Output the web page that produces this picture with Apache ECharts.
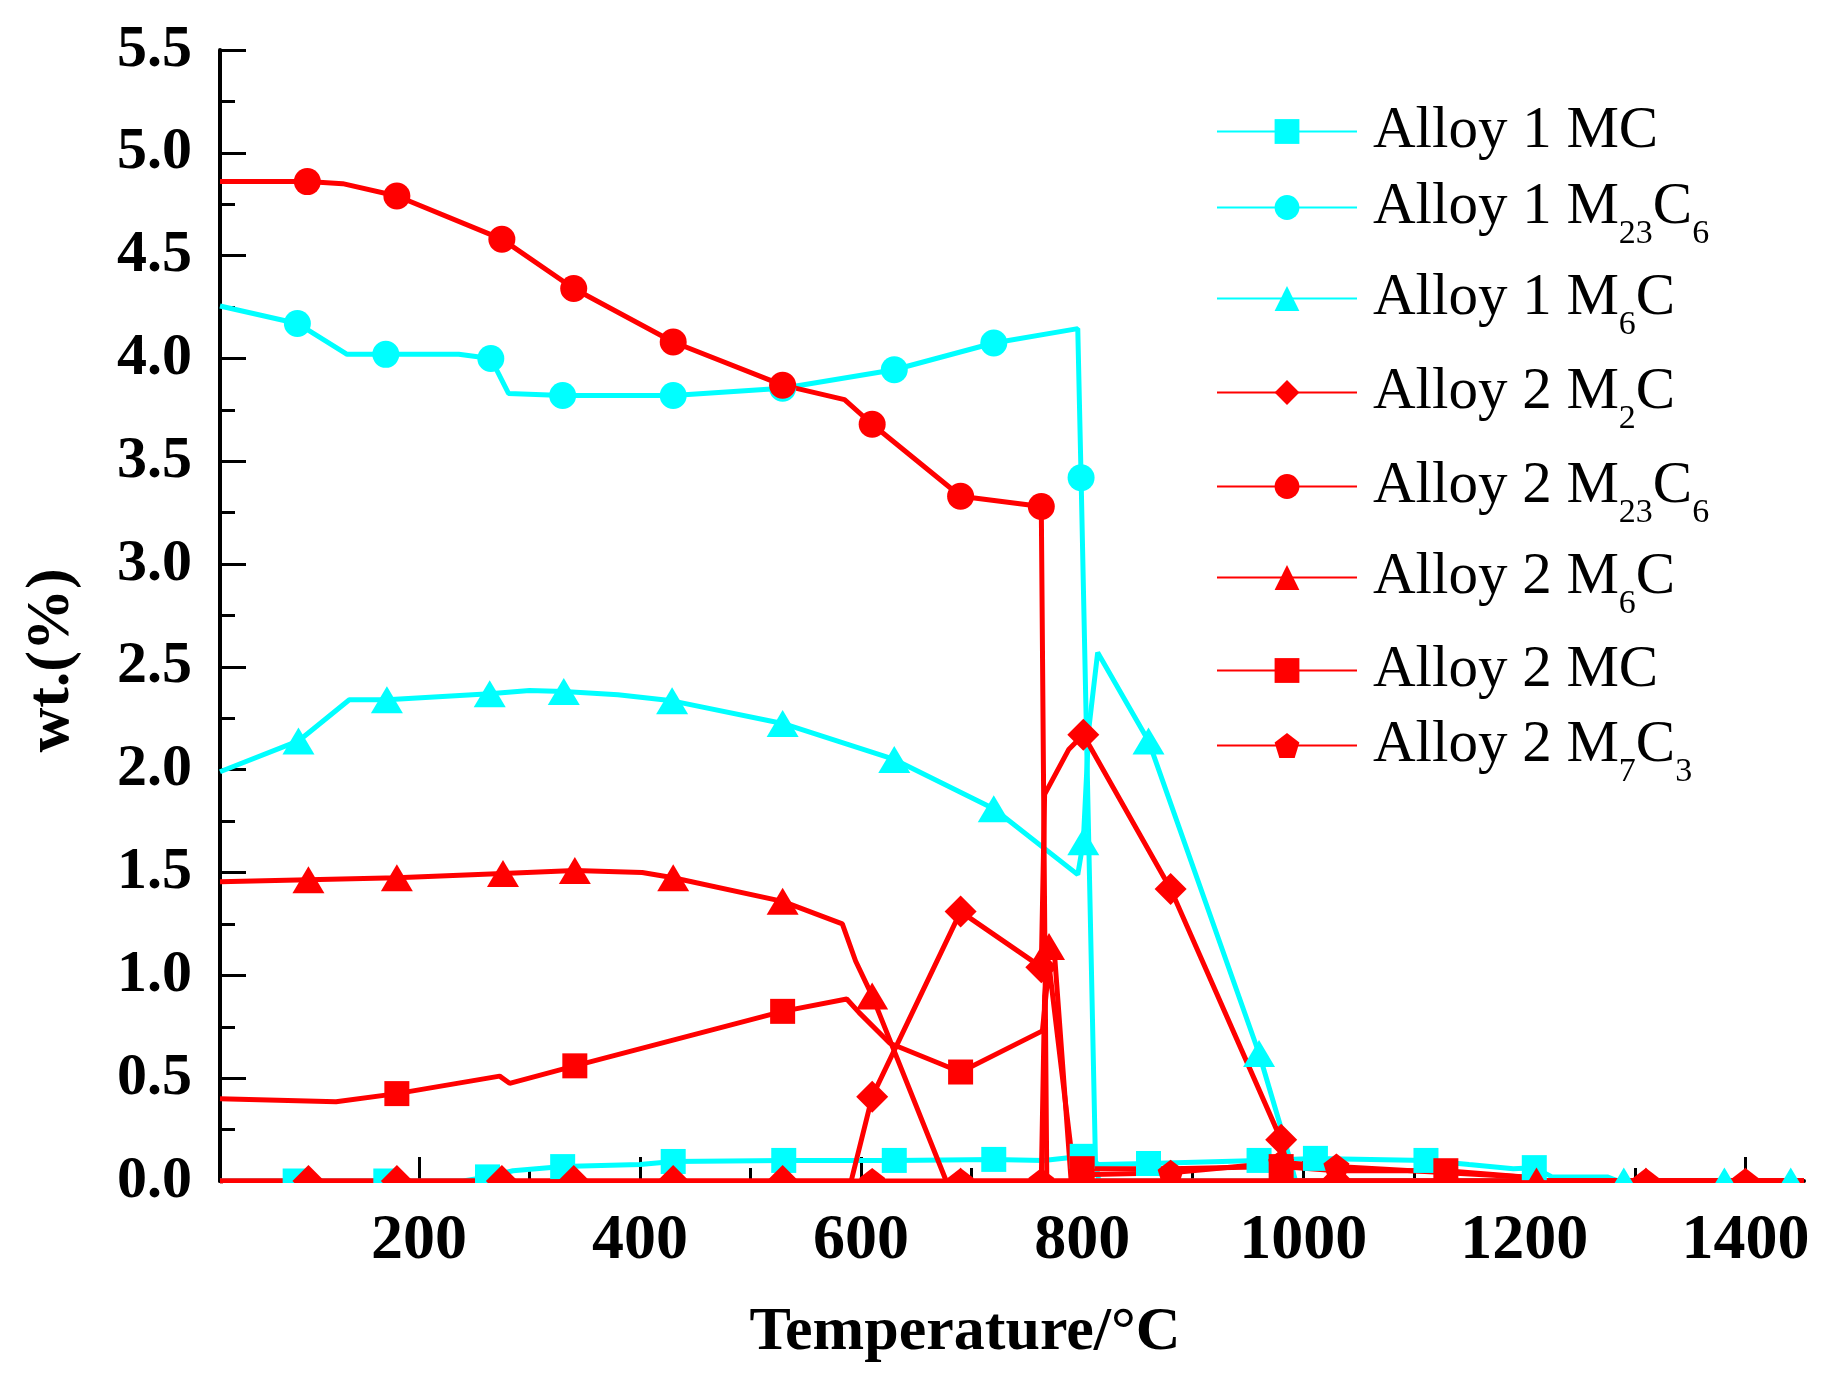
<!DOCTYPE html>
<html>
<head>
<meta charset="utf-8">
<script src="https://cdn.jsdelivr.net/npm/echarts@6/dist/echarts.min.js"></script>
<style>
  html, body { margin: 0; padding: 0; background: #fff; }
  #chart { width: 1828px; height: 1382px; }
</style>
</head>
<body>
<div id="chart"></div>
<script>
// temperature (°C), wt.% and marker flags
const a1MC_t = [20, 88, 170, 240, 262, 285, 330, 400, 430, 530, 630, 720, 765, 800, 815, 860, 960, 1011, 1111, 1150, 1190, 1209, 1225, 1275, 1285, 1453];
const a1MC_w = [0, 0, 0, 0, 0.02, 0.05, 0.07, 0.08, 0.095, 0.10, 0.10, 0.105, 0.10, 0.12, 0.08, 0.085, 0.10, 0.11, 0.10, 0.08, 0.06, 0.065, 0.02, 0.02, 0, 0];
const a1MC_m = [0, 1, 1, 0, 1, 0, 1, 0, 1, 1, 1, 1, 0, 1, 0, 1, 1, 1, 1, 0, 0, 1, 0, 0, 0, 0];

const a1M23_t = [20, 90, 135, 170, 236, 265, 281, 330, 430, 529, 630, 720, 796, 799, 812, 815, 1453];
const a1M23_w = [4.255, 4.17, 4.02, 4.02, 4.02, 4.0, 3.83, 3.82, 3.82, 3.855, 3.945, 4.075, 4.145, 3.42, 0.1, 0, 0];
const a1M23_m = [0, 1, 0, 1, 0, 1, 0, 1, 1, 1, 1, 1, 0, 1, 0, 0, 0];

const a1M6_t = [20, 91, 137, 171, 264, 300, 331, 380, 429, 529, 630, 720, 796, 801, 806, 814, 860, 960, 982, 993, 1290, 1381, 1441, 1453];
const a1M6_w = [1.99, 2.14, 2.34, 2.34, 2.37, 2.385, 2.38, 2.365, 2.335, 2.225, 2.05, 1.81, 1.49, 1.65, 2.2, 2.57, 2.14, 0.62, 0.22, 0, 0, 0, 0, 0];
const a1M6_m = [0, 1, 0, 1, 1, 0, 1, 0, 1, 1, 1, 1, 0, 1, 0, 0, 1, 1, 0, 0, 1, 1, 1, 0];

const a2M2_t = [20, 100, 180, 275, 340, 430, 529, 591, 610, 690, 763, 766, 788, 801, 880, 980, 988, 1030, 1130, 1211, 1310, 1400, 1453];
const a2M2_w = [0, 0, 0, 0, 0, 0, 0, 0, 0.41, 1.31, 1.04, 1.88, 2.10, 2.17, 1.42, 0.2, 0, 0, 0, 0, 0, 0, 0];
const a2M2_m = [0, 1, 1, 1, 1, 1, 1, 0, 1, 1, 1, 0, 0, 1, 1, 1, 0, 1, 0, 0, 0, 0, 0];

const a2M23_t = [20, 99, 131, 180, 275, 340, 430, 529, 585, 610, 690, 763, 768, 1453];
const a2M23_w = [4.86, 4.86, 4.85, 4.79, 4.58, 4.34, 4.08, 3.87, 3.80, 3.68, 3.33, 3.28, 0, 0];
const a2M23_m = [0, 1, 0, 1, 1, 1, 1, 1, 0, 1, 1, 1, 0, 0];

const a2M6_t = [20, 100, 180, 276, 341, 402, 430, 529, 583, 595, 610, 677, 690, 763, 766, 770, 775, 790, 880, 1030, 1211, 1310, 1400, 1453];
const a2M6_w = [1.455, 1.465, 1.475, 1.495, 1.51, 1.50, 1.475, 1.36, 1.25, 1.07, 0.9, 0, 0, 0, 0.9, 1.14, 1.1, 0, 0, 0, 0, 0, 0, 0];
const a2M6_m = [0, 1, 1, 1, 1, 0, 1, 1, 0, 0, 1, 0, 1, 1, 0, 1, 0, 0, 1, 1, 1, 1, 1, 0];

const a2MC_t = [20, 125, 180, 273, 282, 341, 529, 587, 598, 626, 690, 764, 770, 792, 800, 880, 980, 1030, 1129, 1200, 1212, 1453];
const a2MC_w = [0.40, 0.385, 0.425, 0.51, 0.475, 0.56, 0.825, 0.885, 0.82, 0.67, 0.53, 0.73, 1.05, 0.06, 0.06, 0.06, 0.07, 0.05, 0.05, 0.02, 0, 0];
const a2MC_m = [0, 0, 1, 0, 0, 1, 1, 0, 0, 0, 1, 0, 0, 0, 1, 0, 1, 0, 1, 0, 0, 0];

const a2M7_t = [20, 100, 180, 275, 340, 430, 529, 610, 690, 763, 790, 800, 880, 980, 1030, 1130, 1200, 1215, 1310, 1400, 1453];
const a2M7_w = [0, 0, 0, 0, 0, 0, 0, 0, 0, 0, 0, 0.03, 0.04, 0.09, 0.07, 0.04, 0.02, 0, 0, 0, 0];
const a2M7_m = [0, 0, 0, 0, 0, 0, 0, 1, 1, 1, 0, 0, 1, 1, 1, 0, 0, 0, 1, 1, 0];

const xLabels = [200, 400, 600, 800, 1000, 1200, 1400];
const xMinor = [100, 300, 500, 700, 900, 1100, 1300];

const legendNames = ['Alloy 1 MC', 'Alloy 1 M23C6', 'Alloy 1 M6C', 'Alloy 2 M2C',
                     'Alloy 2 M23C6', 'Alloy 2 M6C', 'Alloy 2 MC', 'Alloy 2 M7C3'];
const legendRich = {
  'Alloy 1 MC': '{m|Alloy 1 MC}',
  'Alloy 1 M23C6': '{m|Alloy 1 M}{s|23}{m|C}{s|6}',
  'Alloy 1 M6C': '{m|Alloy 1 M}{s|6}{m|C}',
  'Alloy 2 M2C': '{m|Alloy 2 M}{s|2}{m|C}',
  'Alloy 2 M23C6': '{m|Alloy 2 M}{s|23}{m|C}{s|6}',
  'Alloy 2 M6C': '{m|Alloy 2 M}{s|6}{m|C}',
  'Alloy 2 MC': '{m|Alloy 2 MC}',
  'Alloy 2 M7C3': '{m|Alloy 2 M}{s|7}{m|C}{s|3}'
};
const legendY = [130, 206, 297, 391, 485, 576, 669, 744];

const CYAN = '#00ffff';
const RED = '#ff0000';
const FONT = 'Liberation Serif';
const PENTAGON = 'path://M0,-1 L0.951,-0.309 L0.588,0.809 L-0.588,0.809 L-0.951,-0.309 Z';

function pts(t, w, m, shape) {
  return t.map((x, i) => ({ value: [x, w[i]], symbol: m[i] ? shape : 'none' }));
}

function line(name, color, shape, size, t, w, m) {
  return {
    name: name,
    type: 'line',
    symbol: shape,
    symbolSize: size,
    showAllSymbol: true,
    lineStyle: { color: color, width: 5 },
    itemStyle: { color: color },
    data: pts(t, w, m, shape)
  };
}

const chart = echarts.init(document.getElementById('chart'));

const legends = legendNames.map((n, i) => ({
  data: [n],
  left: 1216,
  top: legendY[i] - 28,
  orient: 'vertical',
  padding: 0,
  itemWidth: 140,
  itemHeight: 31,
  selectedMode: false,
  formatter: (name) => legendRich[name],
  textStyle: {
    color: '#000',
    fontFamily: FONT,
    padding: [0, 0, 0, 11],
    rich: {
      m: { fontFamily: FONT, fontSize: 59, color: '#000', padding: [16, 0, 16, 0] },
      s: { fontFamily: FONT, fontSize: 34, color: '#000', padding: [54, 0, 0, 0] }
    }
  }
}));

chart.setOption({
  backgroundColor: '#fff',
  animation: false,
  grid: { left: 220, right: 24, top: 50, bottom: 201 },
  legend: legends,
  // white strip under the axis so markers sitting on 0 look cut at the frame
  graphic: [{
    type: 'rect', left: 223, top: 1183, z: 50,
    shape: { width: 1605, height: 24 },
    style: { fill: '#fff' }
  }],
  xAxis: [
    {
      type: 'value', min: 20, max: 1453,
      name: 'Temperature/°C', nameLocation: 'middle', nameGap: 121,
      nameTextStyle: { fontFamily: FONT, fontWeight: 'bold', fontSize: 62, color: '#000', padding: [0, 94, 0, 0] },
      axisLine: { show: true, lineStyle: { color: '#000', width: 4 } },
      axisTick: { show: true, inside: true, length: 24, customValues: xLabels, lineStyle: { color: '#000', width: 3 } },
      axisLabel: { customValues: xLabels, margin: 28, fontFamily: FONT, fontWeight: 'bold', fontSize: 64, color: '#000',
                   formatter: (v) => String(v) },
      splitLine: { show: false }
    },
    {
      type: 'value', min: 20, max: 1453, position: 'bottom',
      axisLine: { show: false },
      axisTick: { show: true, inside: true, length: 13, customValues: xMinor, lineStyle: { color: '#000', width: 3 } },
      axisLabel: { show: false },
      splitLine: { show: false }
    }
  ],
  yAxis: {
    type: 'value', min: 0, max: 5.5, interval: 0.5,
    name: 'wt.(%)', nameLocation: 'middle', nameGap: 137,
    nameTextStyle: { fontFamily: FONT, fontWeight: 'bold', fontSize: 62, color: '#000', padding: [0, 90, 0, 0] },
    axisLine: { show: true, lineStyle: { color: '#000', width: 4 } },
    axisTick: { show: true, inside: true, length: 26, lineStyle: { color: '#000', width: 3 } },
    minorTick: { show: true, splitNumber: 2, length: 15, lineStyle: { color: '#000', width: 3 } },
    axisLabel: { margin: 28, fontFamily: FONT, fontWeight: 'bold', fontSize: 60, color: '#000',
                 formatter: (v) => v.toFixed(1) },
    splitLine: { show: false }
  },
  series: [
    line('Alloy 1 MC', CYAN, 'rect', 25, a1MC_t, a1MC_w, a1MC_m),
    line('Alloy 1 M23C6', CYAN, 'circle', 27, a1M23_t, a1M23_w, a1M23_m),
    line('Alloy 1 M6C', CYAN, 'triangle', [32, 27], a1M6_t, a1M6_w, a1M6_m),
    line('Alloy 2 M2C', RED, 'diamond', 32, a2M2_t, a2M2_w, a2M2_m),
    line('Alloy 2 M23C6', RED, 'circle', 27, a2M23_t, a2M23_w, a2M23_m),
    line('Alloy 2 M6C', RED, 'triangle', [32, 27], a2M6_t, a2M6_w, a2M6_m),
    line('Alloy 2 MC', RED, 'rect', 25, a2MC_t, a2MC_w, a2MC_m),
    line('Alloy 2 M7C3', RED, PENTAGON, 26, a2M7_t, a2M7_w, a2M7_m)
  ]
});
</script>
</body>
</html>
